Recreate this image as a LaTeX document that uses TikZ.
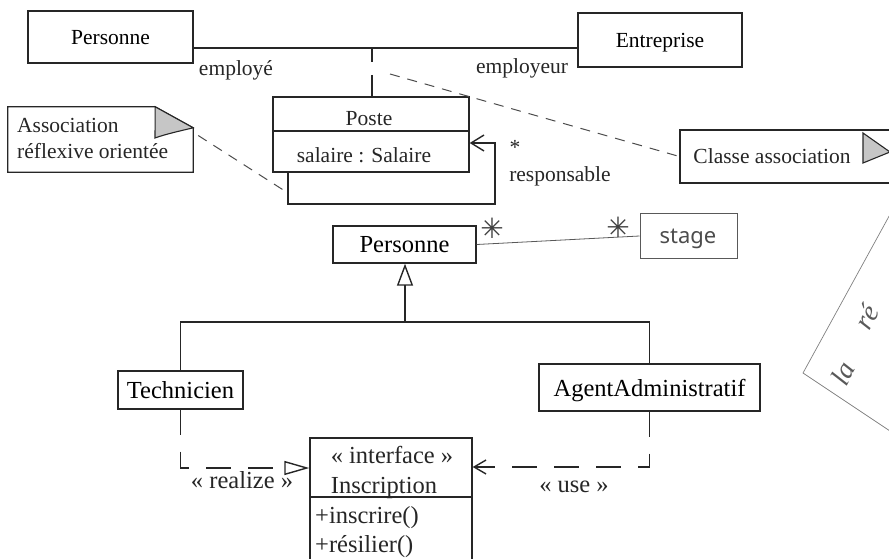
\documentclass[tikz,border=0pt]{standalone}
\usepackage{fontspec}
\setmainfont{Liberation Serif}
\newfontfamily\handfont{Noto Sans}
\newfontfamily\symfont{DejaVu Sans}
\usetikzlibrary{arrows.meta,calc}
\begin{document}
\begin{tikzpicture}[x=1pt,y=-1pt,
  ink/.style={draw=black!85, line width=1.4pt},
  umlbox/.style={ink, rectangle, inner sep=0pt, text depth=0pt},
  big/.style={font=\fontsize{24.5}{28}\selectfont},
  small/.style={font=\fontsize{21.5}{25}\selectfont},
  lbl/.style={inner sep=0pt, anchor=base, text=black!85},
  notedash/.style={draw=black!70, line width=1pt, dash pattern=on 10pt off 8pt},
  hand/.style={draw=black!65, line width=1pt},
  handthin/.style={draw=black!50, line width=0.7pt},
  handtext/.style={rotate=62, anchor=base west, inner sep=0pt, text=black!65, font=\itshape\fontsize{28}{32}\selectfont},
  star/.style={inner sep=0pt, text=black!75, font=\symfont\fontsize{28}{32}\selectfont},
  dep/.style={ink, dash pattern=on 25pt off 17pt},
  fold/.style={fill=gray!45, draw=black!85, line width=1.1pt}
]
\useasboundingbox (0,0) rectangle (889,559);

% --- top association Personne / Entreprise
\node[umlbox, small, minimum width=165pt, minimum height=52pt] (pers1) at (110.5,37) {Personne};
\node[umlbox, small, minimum width=164pt, minimum height=54pt] (entr) at (660,40) {Entreprise};
\coordinate (aj) at (372,48);
\draw[ink] (pers1.east |- aj) -- (entr.west |- aj);
\node[lbl, small] (empl) at (236,76) {employé};
\node[lbl, small] (emplr) at (522,74) {employeur};

% --- Poste (association class)
\node[umlbox, minimum width=196pt, minimum height=75pt] (poste) at (371,134.5) {};
\coordinate (pdiv) at (371,131);
\draw[ink] (poste.west |- pdiv) -- (poste.east |- pdiv);
\node[lbl, small] (posteN) at (369,126) {Poste};
\node[lbl, small] (posteA) at (364,163) {salaire : Salaire};
\draw[ink, dash pattern=on 14pt off 13pt on 30pt off 1pt] (aj) -- (aj |- poste.north);

% reflexive loop
\coordinate (l1) at (288,204);
\coordinate (l2) at (495,204);
\coordinate (l3) at (495,143);
\draw[ink, -{Straight Barb[length=13pt,width=16pt]}] (poste.south -| l1) -- (l1) -- (l2) -- (l3) -- (poste.east |- l3);
\node[lbl, small] (mult1) at (515,155) {*};
\node[lbl, small] (resp) at (560,182) {responsable};

% --- note: Association reflexive orientee
\node[inner sep=0pt, minimum width=185pt, minimum height=65pt] (note1) at (100.5,139.5) {};
\draw[ink, line width=1.2pt] (note1.south west) -- (note1.north west) -- ($(note1.north east)+(-38,0)$) -- ($(note1.north east)+(0,21)$) -- (note1.south east) -- cycle;
\filldraw[fold] ($(note1.north east)+(-38,0)$) -- ($(note1.north east)+(0,21)$) .. controls (180,131) and (166,134) .. (155,138) -- cycle;
\node[lbl, small, anchor=base west] (n1a) at (17,133) {Association};
\node[lbl, small, anchor=base west] (n1b) at (17,159) {réflexive orientée};
\coordinate (lp) at (288,193);
\draw[notedash] ($(note1.east)+(5,-4)$) -- (lp);

% --- note: Classe association
\node[ink, line width=1.2pt, inner sep=0pt, minimum width=225pt, minimum height=53pt] (ca) at (792.5,156.5) {};
\node[lbl, small] (catext) at (772,164) {Classe association};
\filldraw[fold] (863,133) -- (890,152) -- (863,163) -- cycle;
\coordinate (cs) at (390,74);
\draw[notedash] (cs) -- (ca.west);

% --- Personne / stage
\node[umlbox, big, minimum width=143pt, minimum height=37pt] (pers2) at (404.5,244.5) {Personne};
\node[hand, inner sep=0pt, minimum width=97pt, minimum height=45pt] (stage) at (688.5,236) {};
\node[lbl, text=black!70, font=\handfont\fontsize{22}{26}\selectfont] (stagetxt) at (688,243) {stage};
\draw[hand, line width=0.8pt] (pers2.east) -- (stage.west);
\node[star] (m2) at (492,228) {✳};
\node[star] (m3) at (618,227) {✳};

% --- generalisation
\node[umlbox, big, minimum width=125pt, minimum height=38pt] (tech) at (180.5,390) {Technicien};
\node[umlbox, big, minimum width=221pt, minimum height=47pt] (agent) at (649.5,387.5) {AgentAdministratif};
\coordinate (gj) at (405,322);
\draw[ink] (tech.north) |- (gj) -| (agent.north);
\draw[ink, -{Triangle[open,length=22pt,width=16pt]}] (gj) -- (gj |- pers2.south);

% --- interface Inscription
\node[umlbox, minimum width=162pt, minimum height=124pt] (iface) at (391,500) {};
\coordinate (idiv) at (391,497);
\draw[ink] (iface.west |- idiv) -- (iface.east |- idiv);
\node[lbl, big] (stereo) at (392,463) {« interface »};
\node[lbl, big] (iname) at (384,493) {Inscription};
\node[lbl, big, anchor=base west] (op1) at (315,523) {+inscrire()};
\node[lbl, big, anchor=base west] (op2) at (315,552) {+résilier()};

% realize / use
\coordinate (rc) at (182,468);
\draw[dep, -{Triangle[open,length=25pt,width=14pt]}] (tech.south) |- (iface.west |- rc);
\node[lbl, big] (realize) at (242,488) {« realize »};
\coordinate (uc) at (648,467);
\draw[dep, -{Straight Barb[length=12pt,width=14pt]}] (agent.south) |- (iface.east |- uc);
\node[lbl, big] (use) at (574,492) {« use »};

% --- handwritten note at right
\coordinate (hn) at (803,373);
\coordinate (hu) at (893,209);
\coordinate (hd) at (893,433);
\draw[handthin] (hu) -- (hn) -- (hd);
\node[handtext] (hnt1) at (846,388) {la};
\node[handtext] (hnt2) at (869,332) {ré};
\end{tikzpicture}
\end{document}
